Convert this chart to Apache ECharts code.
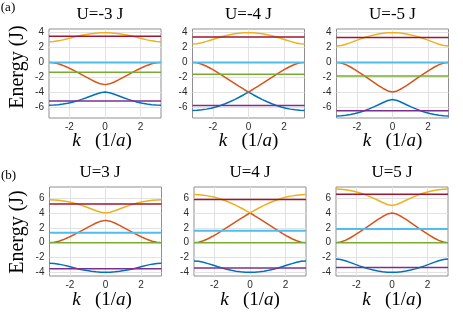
<!DOCTYPE html>
<html><head><meta charset="utf-8">
<script src="https://cdn.jsdelivr.net/npm/echarts@6/dist/echarts.min.js"></script>
<style>html,body{margin:0;padding:0;background:#fff}#c{width:463px;height:319px}</style>
</head><body><div id="c"></div>
<script>
// ---- data ----
const K = [-3.1416,-2.8798,-2.6180,-2.3562,-2.0944,-1.8326,-1.5708,-1.3090,-1.0472,-0.7854,-0.5236,-0.2618,0,0.2618,0.5236,0.7854,1.0472,1.3090,1.5708,1.8326,2.0944,2.3562,2.6180,2.8798,3.1416];
const xTicks = [-2, 0, 2];
const yTicksTop = [-6, -4, -2, 0, 2, 4];
const yTicksBottom = [-4, -2, 0, 2, 4, 6];
const titles = ['U=-3 J', 'U=-4 J', 'U=-5 J', 'U=3 J', 'U=4 J', 'U=5 J'];

// U = -3 J
const blueUm3   = [-5.772,-5.755,-5.706,-5.623,-5.509,-5.365,-5.192,-4.993,-4.772,-4.536,-4.299,-4.092,-4.000,-4.092,-4.299,-4.536,-4.772,-4.993,-5.192,-5.365,-5.509,-5.623,-5.706,-5.755,-5.772];
const orangeUm3 = [0,-0.051,-0.194,-0.412,-0.683,-0.989,-1.318,-1.658,-2.000,-2.334,-2.643,-2.893,-3.000,-2.893,-2.643,-2.334,-2.000,-1.658,-1.318,-0.989,-0.683,-0.412,-0.194,-0.051,0];
const yellowUm3 = [2.772,2.806,2.900,3.035,3.192,3.353,3.509,3.650,3.772,3.870,3.942,3.985,4.000,3.985,3.942,3.870,3.772,3.650,3.509,3.353,3.192,3.035,2.900,2.806,2.772];
const flatUm3   = [-5.192, -1.317, 0, 3.509]; // purple, green, light blue, dark red

// U = -4 J
const blueUm4   = [-6.472,-6.453,-6.397,-6.303,-6.172,-6.006,-5.806,-5.574,-5.311,-5.020,-4.702,-4.361,-4.000,-4.361,-4.702,-5.020,-5.311,-5.574,-5.806,-6.006,-6.172,-6.303,-6.397,-6.453,-6.472];
const orangeUm4 = [0,-0.067,-0.253,-0.526,-0.856,-1.223,-1.612,-2.014,-2.422,-2.828,-3.230,-3.622,-4.000,-3.622,-3.230,-2.828,-2.422,-2.014,-1.612,-1.223,-0.856,-0.526,-0.253,-0.067,0];
const yellowUm4 = [2.472,2.520,2.650,2.829,3.028,3.229,3.419,3.588,3.732,3.848,3.932,3.983,4.000,3.983,3.932,3.848,3.732,3.588,3.419,3.229,3.028,2.829,2.650,2.520,2.472];
const flatUm4   = [-5.806, -1.612, 0, 3.419];

// U = -5 J
const blueUm5   = [-7.217,-7.197,-7.137,-7.037,-6.899,-6.724,-6.514,-6.271,-6.000,-5.707,-5.405,-5.132,-5.000,-5.132,-5.405,-5.707,-6.000,-6.271,-6.514,-6.724,-6.899,-7.037,-7.137,-7.197,-7.217];
const orangeUm5 = [0,-0.083,-0.307,-0.625,-1.000,-1.408,-1.834,-2.269,-2.702,-3.124,-3.519,-3.849,-4.000,-3.849,-3.519,-3.124,-2.702,-2.269,-1.834,-1.408,-1.000,-0.625,-0.307,-0.083,0];
const yellowUm5 = [2.217,2.280,2.444,2.662,2.899,3.132,3.348,3.540,3.702,3.831,3.924,3.981,4.000,3.981,3.924,3.831,3.702,3.540,3.348,3.132,2.899,2.662,2.444,2.280,2.217];
const flatUm5   = [-6.514, -1.834, 0, 3.348];

// U = 3 J
const blueUp3   = [-2.772,-2.806,-2.900,-3.035,-3.192,-3.353,-3.509,-3.650,-3.772,-3.870,-3.942,-3.985,-4.000,-3.985,-3.942,-3.870,-3.772,-3.650,-3.509,-3.353,-3.192,-3.035,-2.900,-2.806,-2.772];
const orangeUp3 = [0,0.051,0.194,0.412,0.683,0.989,1.318,1.658,2.000,2.334,2.643,2.893,3.000,2.893,2.643,2.334,2.000,1.658,1.318,0.989,0.683,0.412,0.194,0.051,0];
const yellowUp3 = [5.772,5.755,5.706,5.623,5.509,5.365,5.192,4.993,4.772,4.536,4.299,4.092,4.000,4.092,4.299,4.536,4.772,4.993,5.192,5.365,5.509,5.623,5.706,5.755,5.772];
const flatUp3   = [-3.509, 0, 1.317, 5.192];

// U = 4 J
const blueUp4   = [-2.472,-2.520,-2.650,-2.829,-3.028,-3.229,-3.419,-3.588,-3.732,-3.848,-3.932,-3.983,-4.000,-3.983,-3.932,-3.848,-3.732,-3.588,-3.419,-3.229,-3.028,-2.829,-2.650,-2.520,-2.472];
const orangeUp4 = [0,0.067,0.253,0.526,0.856,1.223,1.612,2.014,2.422,2.828,3.230,3.622,4.000,3.622,3.230,2.828,2.422,2.014,1.612,1.223,0.856,0.526,0.253,0.067,0];
const yellowUp4 = [6.472,6.453,6.397,6.303,6.172,6.006,5.806,5.574,5.311,5.020,4.702,4.361,4.000,4.361,4.702,5.020,5.311,5.574,5.806,6.006,6.172,6.303,6.397,6.453,6.472];
const flatUp4   = [-3.419, 0, 1.612, 5.806];

// U = 5 J
const blueUp5   = [-2.217,-2.280,-2.444,-2.662,-2.899,-3.132,-3.348,-3.540,-3.702,-3.831,-3.924,-3.981,-4.000,-3.981,-3.924,-3.831,-3.702,-3.540,-3.348,-3.132,-2.899,-2.662,-2.444,-2.280,-2.217];
const orangeUp5 = [0,0.083,0.307,0.625,1.000,1.408,1.834,2.269,2.702,3.124,3.519,3.849,4.000,3.849,3.519,3.124,2.702,2.269,1.834,1.408,1.000,0.625,0.307,0.083,0];
const yellowUp5 = [7.217,7.197,7.137,7.037,6.899,6.724,6.514,6.271,6.000,5.707,5.405,5.132,5.000,5.132,5.405,5.707,6.000,6.271,6.514,6.724,6.899,7.037,7.137,7.197,7.217];
const flatUp5   = [-3.348, 0, 1.834, 6.514];

// ---- layout / style ----
const panels = [
  {b: blueUm3, o: orangeUm3, y: yellowUm3, f: flatUm3, left: 49,    top: 29,  yr: [-7.5, 4.5], ticks: yTicksTop,    tx: 100, lx: 102},
  {b: blueUm4, o: orangeUm4, y: yellowUm4, f: flatUm4, left: 192.5, top: 29,  yr: [-7.5, 4.5], ticks: yTicksTop,    tx: 248.5, lx: 248.5},
  {b: blueUm5, o: orangeUm5, y: yellowUm5, f: flatUm5, left: 336.5, top: 29,  yr: [-7.5, 4.5], ticks: yTicksTop,    tx: 392.5, lx: 392.5},
  {b: blueUp3, o: orangeUp3, y: yellowUp3, f: flatUp3, left: 49.5,  top: 187, yr: [-4.5, 7.5], ticks: yTicksBottom, tx: 100, lx: 102},
  {b: blueUp4, o: orangeUp4, y: yellowUp4, f: flatUp4, left: 194,   top: 187, yr: [-4.5, 7.5], ticks: yTicksBottom, tx: 250, lx: 250},
  {b: blueUp5, o: orangeUp5, y: yellowUp5, f: flatUp5, left: 336,   top: 187, yr: [-4.5, 7.5], ticks: yTicksBottom, tx: 392, lx: 392}
];
const W = 112, H = 89;
const C = {blue:'#0072BD', orange:'#D95319', yellow:'#EDB120', purple:'#7E2F8E', green:'#77AC30', lblue:'#4DBEEE', dred:'#A2142F'};
const flatColors = [C.purple, C.green, C.lblue, C.dred];
const axisGray = '#8f8f8f', gridGray = '#e2e2e2', tickText = '#2b2b2b';
const tickFont = 'Liberation Sans';
const serif = 'Liberation Serif';

const grid = [], xAxis = [], yAxis = [], series = [], graphic = [];
panels.forEach((p, i) => {
  grid.push({left: p.left, top: p.top, width: W, height: H, show: true, borderColor: axisGray, borderWidth: 1, backgroundColor: '#fff'});
  xAxis.push({type: 'value', gridIndex: i, min: K[0], max: K[K.length - 1],
    axisLine: {show: false},
    axisTick: {show: true, inside: true, length: 3, lineStyle: {color: axisGray}, customValues: xTicks},
    axisLabel: {customValues: xTicks, color: tickText, fontFamily: tickFont, fontSize: 10, margin: 4},
    splitLine: {show: false}});
  yAxis.push({type: 'value', gridIndex: i, min: p.yr[0], max: p.yr[1],
    axisLine: {show: false},
    axisTick: {show: true, inside: true, length: 3, lineStyle: {color: axisGray}, customValues: p.ticks},
    axisLabel: {customValues: p.ticks, color: tickText, fontFamily: tickFont, fontSize: 10, margin: 5},
    splitLine: {show: false}});
  const curve = (arr, color) => ({type: 'line', xAxisIndex: i, yAxisIndex: i, showSymbol: false, symbol: 'none', silent: true,
    data: K.map((k, j) => [k, arr[j]]), lineStyle: {color: color, width: 1.5}, itemStyle: {color: color}, z: 3});
  const gridLines = {silent: true, symbol: 'none', z: 1, label: {show: false},
    lineStyle: {color: gridGray, width: 1, type: 'solid'}, emphasis: {disabled: true},
    data: xTicks.map(v => ({xAxis: v})).concat(p.ticks.map(v => ({yAxis: v})))};
  const blue = curve(p.b, C.blue);
  blue.markLine = gridLines;
  series.push(blue, curve(p.o, C.orange), curve(p.y, C.yellow));
  p.f.forEach((v, j) => {
    series.push({type: 'line', xAxisIndex: i, yAxisIndex: i, showSymbol: false, symbol: 'none', silent: true,
      data: [[K[0], v], [K[K.length - 1], v]],
      lineStyle: {color: flatColors[j], width: flatColors[j] === C.lblue ? 2 : 1.5}, itemStyle: {color: flatColors[j]}, z: 4});
  });
  const ty = i < 3 ? 15 : 172.5;
  graphic.push({type: 'text', x: p.tx, y: ty, style: {text: titles[i], font: '17px "' + serif + '"', fill: '#000', align: 'center', verticalAlign: 'middle'}});
  const ly = i < 3 ? 141 : 300;
  graphic.push({type: 'text', x: p.lx, y: ly, style: {text: '{i|k}   (1/{i|a})', font: '19px "' + serif + '"', fill: '#000', align: 'center', verticalAlign: 'middle',
    rich: {i: {fontStyle: 'italic', fontFamily: serif, fontSize: 19}}}});
});
graphic.push({type: 'text', x: 18, y: 67, rotation: Math.PI / 2, style: {text: 'Energy (J)', font: '20px "' + serif + '"', fill: '#000', align: 'center', verticalAlign: 'middle'}});
graphic.push({type: 'text', x: 18, y: 232, rotation: Math.PI / 2, style: {text: 'Energy (J)', font: '20px "' + serif + '"', fill: '#000', align: 'center', verticalAlign: 'middle'}});
graphic.push({type: 'text', x: 8, y: 8, style: {text: '(a)', font: '13px "' + serif + '"', fill: '#000', align: 'center', verticalAlign: 'middle'}});
graphic.push({type: 'text', x: 8.5, y: 176, style: {text: '(b)', font: '13px "' + serif + '"', fill: '#000', align: 'center', verticalAlign: 'middle'}});

const chart = echarts.init(document.getElementById('c'), null, {renderer: 'canvas'});
chart.setOption({animation: false, backgroundColor: '#fff', grid, xAxis, yAxis, series, graphic});
</script>
</body></html>
